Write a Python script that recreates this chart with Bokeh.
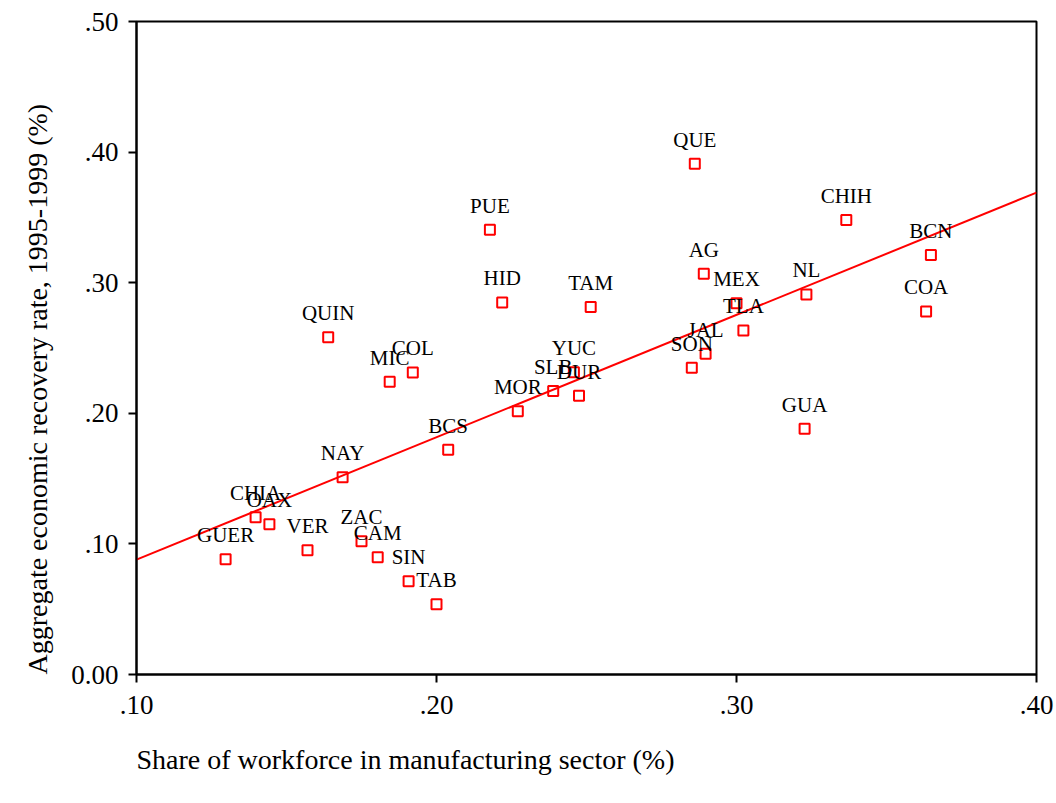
from bokeh.plotting import figure
from bokeh.models import Range1d, ColumnDataSource, FixedTicker, Title
from bokeh.embed import file_html
from bokeh.resources import INLINE

states = ["GUER", "CHIA", "OAX", "VER", "NAY", "ZAC", "CAM", "SIN", "TAB", "QUIN",
          "MIC", "COL", "BCS", "PUE", "HID", "MOR", "SLB", "YUC", "DUR", "TAM",
          "QUE", "AG", "SON", "JAL", "MEX", "TLA", "NL", "GUA", "CHIH", "COA", "BCN"]
manuf_share = [0.1297, 0.1397, 0.1443, 0.1570, 0.1687, 0.1750, 0.1804, 0.1907, 0.2000, 0.1639,
               0.1844, 0.1921, 0.2039, 0.2178, 0.2219, 0.2271, 0.2389, 0.2458, 0.2475, 0.2514,
               0.2861, 0.2891, 0.2851, 0.2897, 0.3000, 0.3023, 0.3233, 0.3227, 0.3366, 0.3632, 0.3648]
recovery = [0.0882, 0.1204, 0.1150, 0.0951, 0.1510, 0.1020, 0.0897, 0.0714, 0.0538, 0.2583,
            0.2242, 0.2313, 0.1721, 0.3405, 0.2849, 0.2015, 0.2170, 0.2314, 0.2135, 0.2813,
            0.3910, 0.3068, 0.2349, 0.2456, 0.2843, 0.2634, 0.2910, 0.1882, 0.3481, 0.2780, 0.3213]
fit_x = [0.10, 0.40]
fit_y = [0.088, 0.369]
x_ticks = [0.10, 0.20, 0.30, 0.40]
x_tick_labels = [".10", ".20", ".30", ".40"]
y_ticks = [0.0, 0.10, 0.20, 0.30, 0.40, 0.50]
y_tick_labels = ["0.00", ".10", ".20", ".30", ".40", ".50"]
x_label = "Share of workforce in manufacturing sector (%)"
y_label = "Aggregate economic recovery rate, 1995-1999 (%)"

FONT = "Liberation Serif"

p = figure(width=1056, height=803, output_backend="svg", toolbar_location=None,
           x_range=Range1d(0.10, 0.40), y_range=Range1d(0.0, 0.50),
           min_border_left=136, min_border_right=20, min_border_top=21, min_border_bottom=129)
p.grid.visible = False
p.outline_line_color = "black"
p.outline_line_width = 2
p.background_fill_color = "white"
p.border_fill_color = "white"

src = ColumnDataSource(dict(x=manuf_share, y=recovery, name=states))

p.line(fit_x, fit_y, line_color="red", line_width=2)
p.scatter("x", "y", source=src, marker="square", size=10, line_color="red",
          line_width=2, fill_alpha=0)
p.text("x", "y", text="name", source=src, text_align="center", text_baseline="alphabetic",
       y_offset=-24, text_font_size="21px", text_color="black", text_font=FONT)

for ax in (p.xaxis[0], p.yaxis[0]):
    ax.axis_line_width = 2
    ax.axis_line_color = "black"
    ax.major_tick_line_width = 2
    ax.major_tick_out = 8
    ax.major_tick_in = 0
    ax.minor_tick_out = 0
    ax.minor_tick_in = 0
    ax.major_label_text_font = FONT
    ax.major_label_text_font_size = "27px"
    ax.major_label_text_color = "black"

p.xaxis.major_label_standoff = 13
p.yaxis.major_label_standoff = 10
p.xaxis.ticker = FixedTicker(ticks=x_ticks)
p.yaxis.ticker = FixedTicker(ticks=y_ticks)
p.xaxis.major_label_overrides = dict(zip(x_ticks, x_tick_labels))
p.yaxis.major_label_overrides = dict(zip(y_ticks, y_tick_labels))

xt = Title(text=x_label, align="left", text_font=FONT, text_font_size="28px",
           text_font_style="normal", text_color="black", standoff=50)
yt = Title(text=y_label, align="left", text_font=FONT, text_font_size="28px",
           text_font_style="normal", text_color="black", standoff=32)
p.add_layout(xt, "below")
p.add_layout(yt, "left")

open("out.html", "w").write(file_html(p, INLINE))
